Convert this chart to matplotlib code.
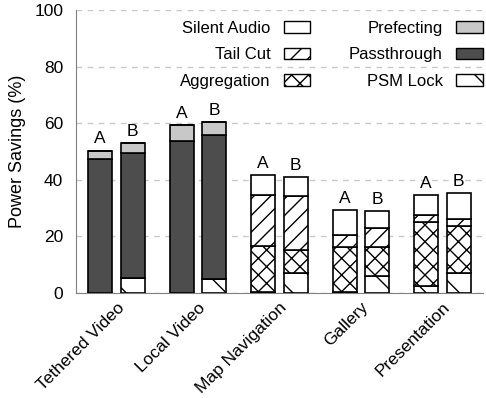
import numpy as np
import matplotlib
matplotlib.use("Agg")
import matplotlib.pyplot as plt
from matplotlib.patches import Patch

plt.rcParams["font.family"] = ["Liberation Sans", "DejaVu Sans"]
plt.rcParams["font.size"] = 12.5
plt.rcParams["hatch.linewidth"] = 1.0

apps = ["Tethered Video", "Local Video", "Map Navigation", "Gallery", "Presentation"]
configs = ["A", "B"]

# segment heights, bottom to top
psm_a = [0, 0, 0.5, 0.5, 2.3]
agg_a = [0, 0, 16.1, 15.6, 22.6]
tail_a = [0, 0, 18.0, 4.2, 2.7]
pass_a = [47.2, 53.7, 0, 0, 0]
pref_a = [3.1, 5.6, 0, 0, 0]
silent_a = [0, 0, 7.1, 9.0, 7.0]

psm_b = [5.3, 5.0, 7.0, 6.0, 7.2]
agg_b = [0, 0, 8.0, 10.4, 16.3]
tail_b = [0, 0, 19.4, 6.5, 2.5]
pass_b = [44.1, 50.7, 0, 0, 0]
pref_b = [3.5, 4.6, 0, 0, 0]
silent_b = [0, 0, 6.5, 6.1, 9.2]

layers = ["PSM Lock", "Aggregation", "Tail Cut", "Passthrough", "Prefecting", "Silent Audio"]
styles = {
    "PSM Lock": dict(color="white", hatch="\\"),
    "Aggregation": dict(color="white", hatch="xx"),
    "Tail Cut": dict(color="white", hatch="//"),
    "Passthrough": dict(color="#4d4d4d", hatch=None),
    "Prefecting": dict(color="#c8c8c8", hatch=None),
    "Silent Audio": dict(color="white", hatch=None),
}
data = {
    "A": [psm_a, agg_a, tail_a, pass_a, pref_a, silent_a],
    "B": [psm_b, agg_b, tail_b, pass_b, pref_b, silent_b],
}

fig = plt.figure(figsize=(4.86, 3.98), dpi=100)
ax = fig.add_axes([0.156, 0.264, 0.838, 0.711])

x = np.arange(len(apps))
width = 0.295
offsets = {"A": -0.2, "B": 0.2}

for cfg in configs:
    bottom = np.zeros(len(apps))
    for name, vals in zip(layers, data[cfg]):
        vals = np.array(vals, dtype=float)
        st = styles[name]
        ax.bar(x + offsets[cfg], vals, width, bottom=bottom, color=st["color"],
               hatch=st["hatch"], edgecolor="black", linewidth=1.2, zorder=3)
        bottom += vals
    for xi, top in zip(x, bottom):
        ax.annotate(cfg, (xi + offsets[cfg], top), xytext=(0, 3),
                    textcoords="offset points", ha="center", va="bottom")

ax.set_xlim(-0.5, len(apps) - 0.5)
ax.set_ylim(0, 100)
ax.set_yticks([0, 20, 40, 60, 80, 100])
ax.set_xticks(x)
ax.set_xticklabels(apps, rotation=45, ha="right", rotation_mode="anchor")
ax.set_ylabel("Power Savings (%)", fontsize=13)
ax.yaxis.set_label_coords(-0.123, 0.5)
ax.yaxis.grid(True, linestyle=(0, (4, 4)), color="#c8c8c8", linewidth=1.0, zorder=0)
ax.tick_params(axis="y", length=0, pad=9)
ax.tick_params(axis="x", length=0, pad=5)
for side in ["top", "right"]:
    ax.spines[side].set_visible(False)
for side in ["left", "bottom"]:
    ax.spines[side].set_color("#808080")

order = ["Silent Audio", "Tail Cut", "Aggregation", "Prefecting", "Passthrough", "PSM Lock"]
handles = [Patch(facecolor=styles[n]["color"], hatch=styles[n]["hatch"],
                 edgecolor="black", linewidth=1.0) for n in order]
ax.legend(handles, order, ncol=2, loc="upper right", bbox_to_anchor=(1.015, 0.985),
          frameon=False, markerfirst=False, handlelength=1.6, handleheight=0.7,
          columnspacing=2.3, labelspacing=0.68, borderaxespad=0, fontsize=12)

fig.savefig("out.png", dpi=100)
